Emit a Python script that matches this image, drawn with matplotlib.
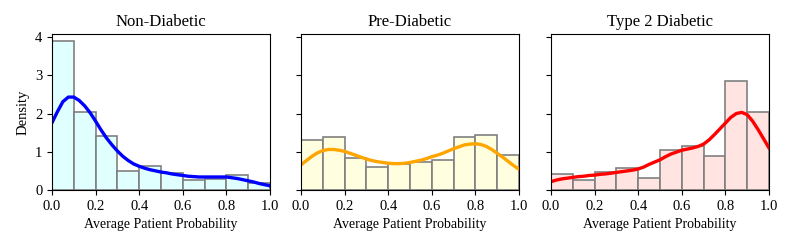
import matplotlib.pyplot as plt
import numpy as np

plt.rcParams["font.family"] = ["Liberation Serif", "DejaVu Serif"]

bin_edges = np.round(np.arange(0, 1.01, 0.1), 2)
kde_x = np.round(np.arange(0, 1.0001, 0.025), 3)

titles = ["Non-Diabetic", "Pre-Diabetic", "Type 2 Diabetic"]

non_diabetic_hist = [3.90, 2.04, 1.42, 0.50, 0.62, 0.44, 0.25, 0.29, 0.38, 0.19]
pre_diabetic_hist = [1.31, 1.39, 0.85, 0.59, 0.67, 0.72, 0.79, 1.39, 1.44, 0.92]
type2_hist = [0.41, 0.25, 0.48, 0.57, 0.32, 1.05, 1.16, 0.90, 2.85, 2.04]

non_diabetic_kde = [1.76, 2.05, 2.31, 2.43, 2.43, 2.34, 2.20, 2.02, 1.80, 1.57,
                    1.36, 1.18, 1.02, 0.88, 0.77, 0.68, 0.62, 0.57, 0.53, 0.50,
                    0.47, 0.45, 0.42, 0.40, 0.38, 0.36, 0.35, 0.34, 0.34, 0.34,
                    0.34, 0.34, 0.34, 0.32, 0.30, 0.27, 0.24, 0.21, 0.17, 0.14,
                    0.11]
pre_diabetic_kde = [0.66, 0.77, 0.88, 0.97, 1.03, 1.06, 1.06, 1.04, 1.01, 0.96,
                    0.91, 0.86, 0.81, 0.77, 0.74, 0.72, 0.70, 0.69, 0.69, 0.70,
                    0.72, 0.75, 0.78, 0.82, 0.87, 0.91, 0.96, 1.02, 1.08, 1.13,
                    1.18, 1.20, 1.21, 1.19, 1.14, 1.06, 0.96, 0.86, 0.75, 0.64,
                    0.54]
type2_kde = [0.22, 0.26, 0.29, 0.31, 0.33, 0.35, 0.36, 0.38, 0.39, 0.41,
             0.42, 0.44, 0.46, 0.48, 0.50, 0.52, 0.55, 0.60, 0.67, 0.73,
             0.79, 0.87, 0.94, 0.99, 1.04, 1.07, 1.10, 1.14, 1.20, 1.31,
             1.45, 1.60, 1.75, 1.90, 2.00, 2.03, 1.97, 1.80, 1.58, 1.34,
             1.10]

hists = [non_diabetic_hist, pre_diabetic_hist, type2_hist]
kdes = [non_diabetic_kde, pre_diabetic_kde, type2_kde]
fills = ["#e0ffff", "#ffffe0", "#ffe4e1"]
lines = ["blue", "orange", "red"]

fig = plt.figure(figsize=(7.93, 2.48), dpi=100)
lefts = [52, 301, 551]
axes = []
for i in range(3):
    ax = fig.add_axes([lefts[i] / 793, 1 - 190 / 248, 218 / 793, 156 / 248],
                      sharey=axes[0] if axes else None)
    axes.append(ax)
    ax.bar(bin_edges[:-1], hists[i], width=0.1, align="edge",
           color=fills[i], edgecolor="gray", linewidth=1.2)
    ax.plot(kde_x, kdes[i], color=lines[i], linewidth=2.4)
    ax.set_xlim(0, 1)
    ax.set_ylim(0, 4.08)
    ax.set_xticks(np.arange(0, 1.01, 0.2))
    ax.set_yticks([0, 1, 2, 3, 4])
    ax.tick_params(labelsize=10.5)
    ax.set_title(titles[i], fontsize=12)
    ax.set_xlabel("Average Patient Probability", fontsize=10)
    if i == 0:
        ax.set_ylabel("Density", fontsize=10.5)
    else:
        ax.tick_params(labelleft=False)

fig.savefig("out.png", dpi=100)
